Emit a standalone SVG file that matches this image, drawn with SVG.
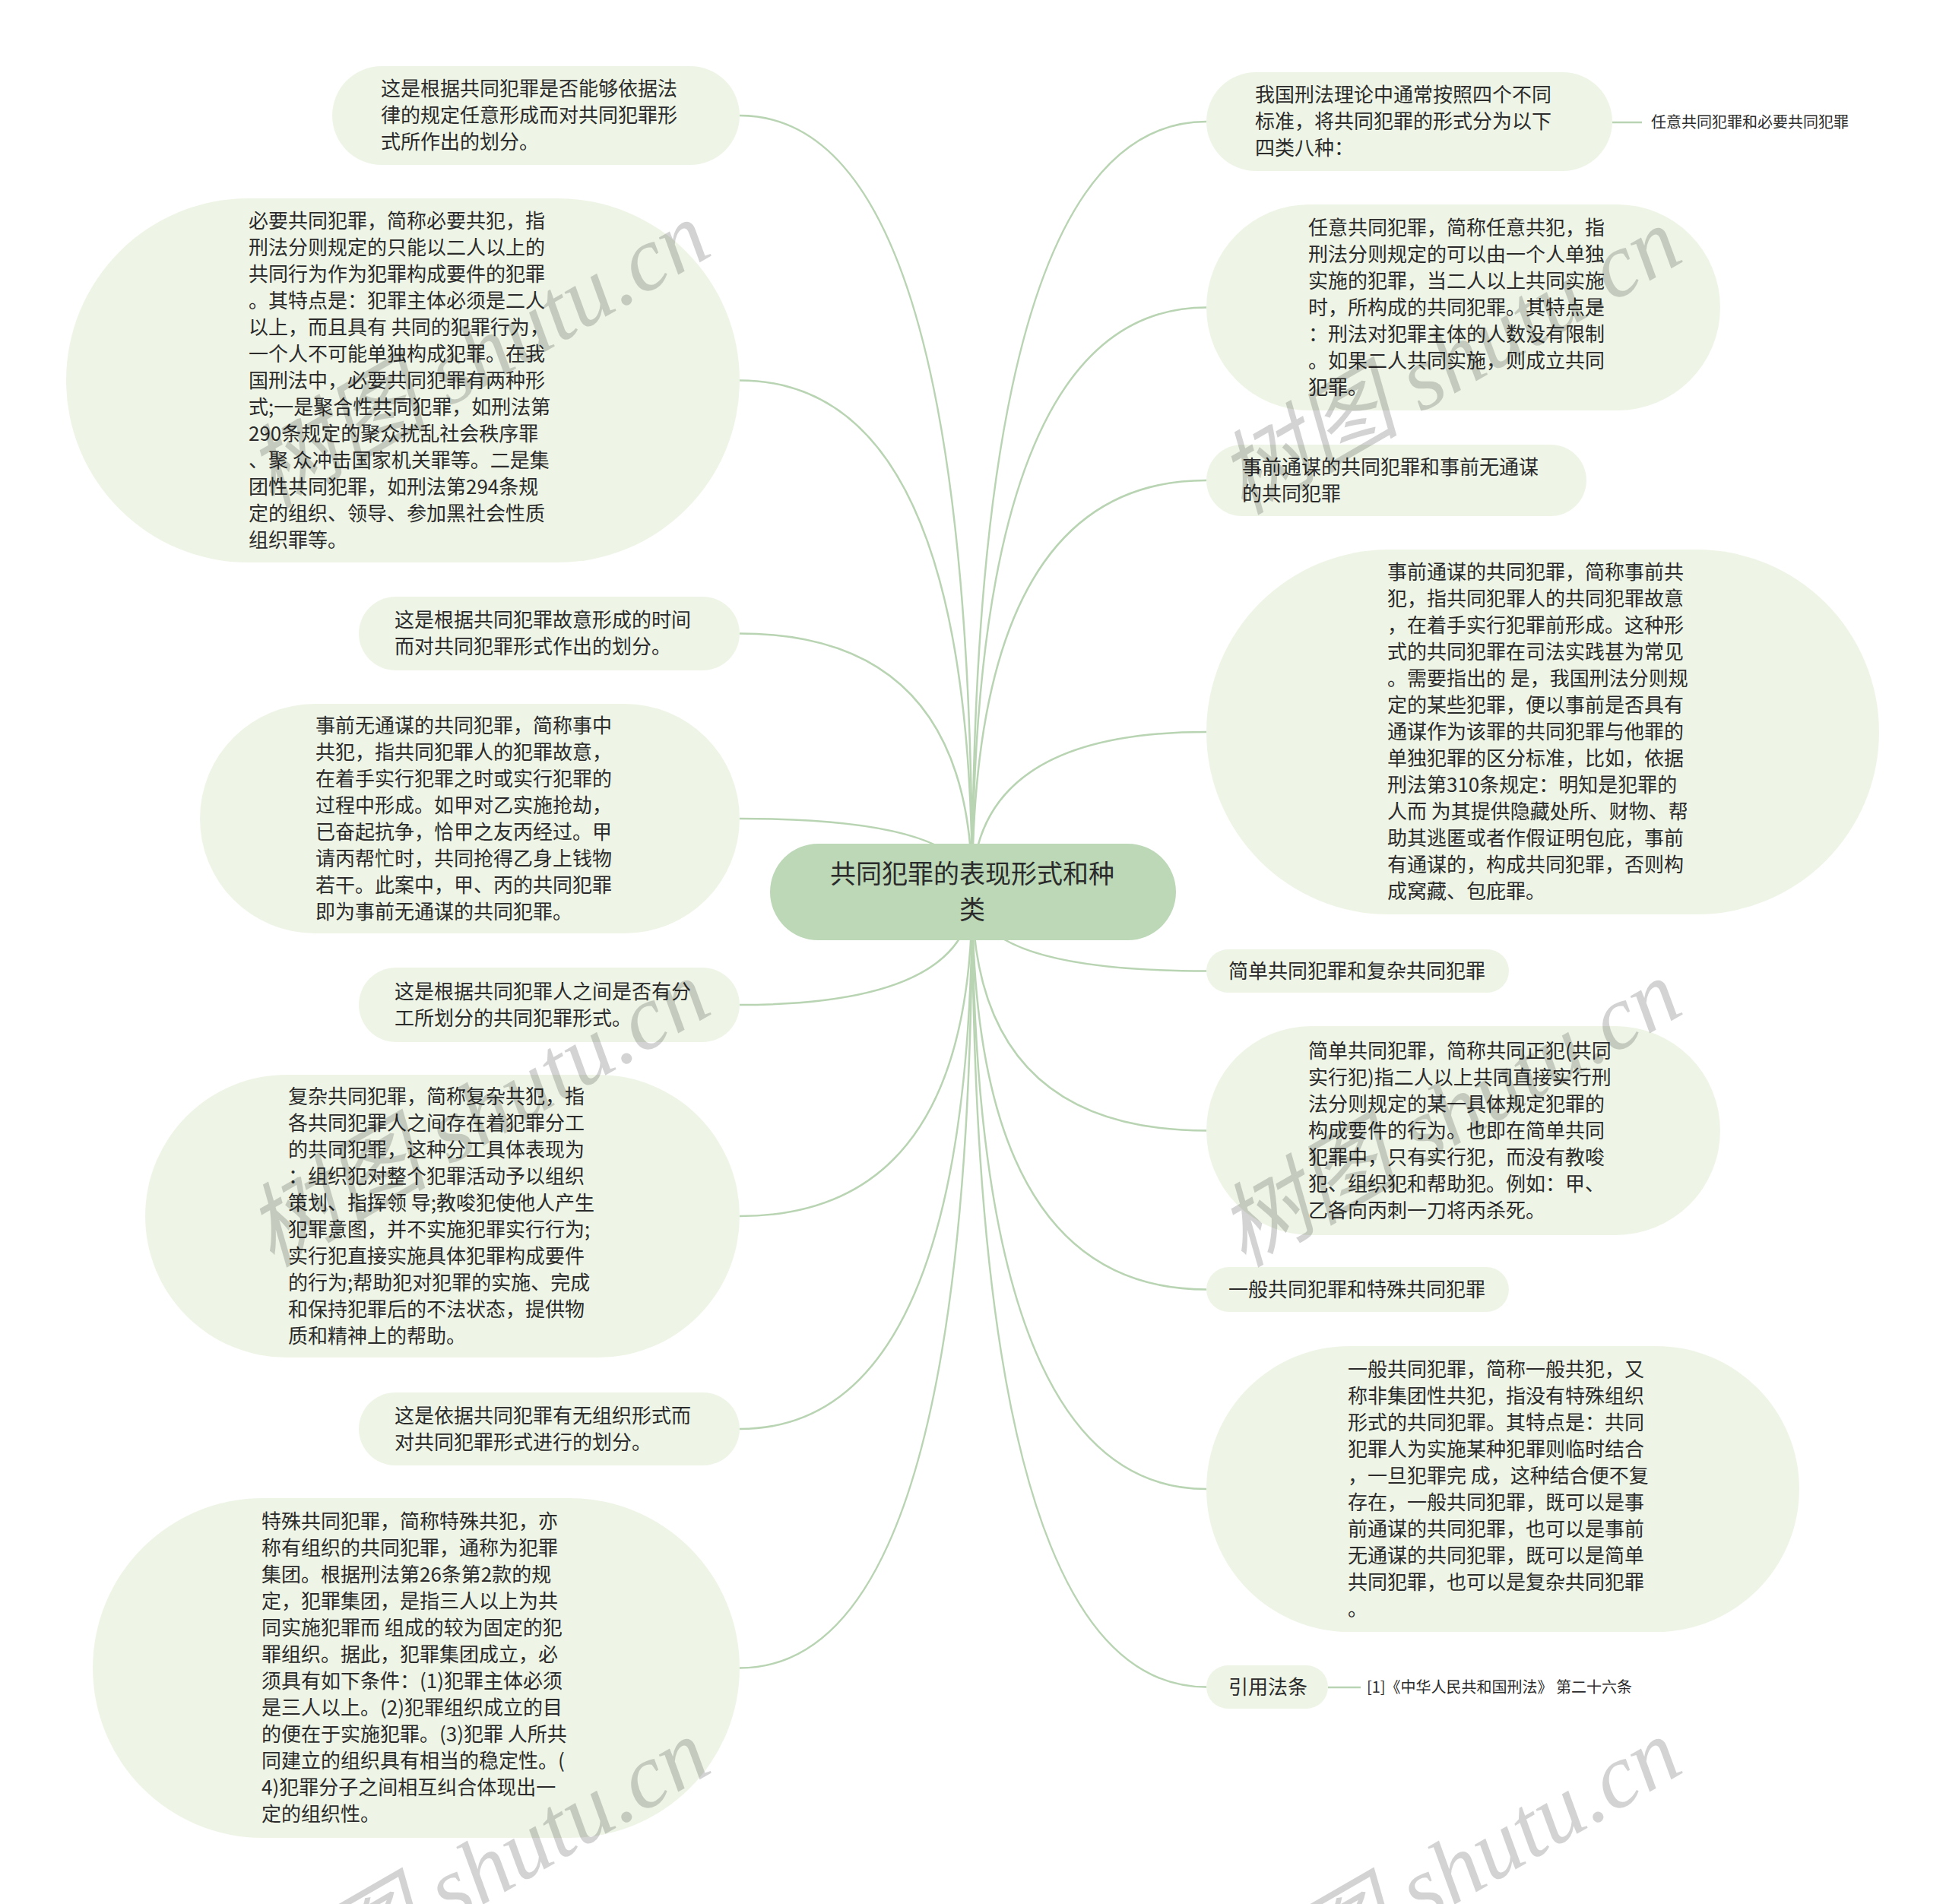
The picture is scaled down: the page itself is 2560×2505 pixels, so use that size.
<svg xmlns="http://www.w3.org/2000/svg" width="2560" height="2505" viewBox="0 0 2560 2505">
<style>
.bg{fill:#ffffff}
.node rect{fill:#eef5e6}
.root rect{fill:#bcd8b7}
.t{font-family:"Noto Sans CJK SC","Noto Sans",sans-serif;font-size:26px;fill:#2b2b2b}
.tr{font-family:"Noto Sans CJK SC","Noto Sans",sans-serif;font-size:34px;fill:#2b2b2b}
.ts{font-family:"Noto Sans CJK SC","Noto Sans",sans-serif;font-size:20px;fill:#2b2b2b}
.c path,.c line{fill:none;stroke:#b8d4b2;stroke-width:2.5}
.wm text{font-family:"Liberation Serif","Noto Sans CJK SC",serif;font-style:italic;font-size:120px;fill:#000;opacity:0.17}
</style>
<rect class="bg" x="0" y="0" width="2560" height="2505"/>
<g class="c" id="connectors">
<path d="M1279,1173 Q1279,152 973,152"/>
<path d="M1279,1173 Q1279,500.5 973,500.5"/>
<path d="M1279,1173 Q1279,833.5 973,833.5"/>
<path d="M1279,1173 Q1279,1077 973,1077"/>
<path d="M1279,1173 Q1279,1322 973,1322"/>
<path d="M1279,1173 Q1279,1600 973,1600"/>
<path d="M1279,1173 Q1279,1880 973,1880"/>
<path d="M1279,1173 Q1279,2194.5 973,2194.5"/>
<path d="M1279,1173 Q1279,160 1587,160"/>
<path d="M1279,1173 Q1279,404.5 1587,404.5"/>
<path d="M1279,1173 Q1279,632 1587,632"/>
<path d="M1279,1173 Q1279,963 1587,963"/>
<path d="M1279,1173 Q1279,1277.5 1587,1277.5"/>
<path d="M1279,1173 Q1279,1487.5 1587,1487.5"/>
<path d="M1279,1173 Q1279,1696.5 1587,1696.5"/>
<path d="M1279,1173 Q1279,1959 1587,1959"/>
<path d="M1279,1173 Q1279,2219.5 1587,2219.5"/>
<line x1="2121" y1="161" x2="2160" y2="161"/>
<line x1="1747" y1="2220" x2="1790" y2="2220"/>
</g>

<g class="root" id="root">
<rect x="1013" y="1110" width="534" height="127" rx="63.5"/>
<text class="tr" text-anchor="middle"><tspan x="1279" y="1162">共同犯罪的表现形式和种</tspan><tspan x="1279" y="1209">类</tspan></text>
</g>

<g class="node" id="n1">
<rect x="437" y="87" width="536" height="130" rx="65"/>
<text class="t"><tspan x="501" y="126">这是根据共同犯罪是否能够依据法</tspan><tspan x="501" y="161">律的规定任意形成而对共同犯罪形</tspan><tspan x="501" y="196">式所作出的划分。</tspan></text>
</g>

<g class="node" id="n2">
<rect x="87" y="261" width="886" height="479" rx="239.5"/>
<text class="t"><tspan x="327" y="300">必要共同犯罪，简称必要共犯，指</tspan><tspan x="327" y="335">刑法分则规定的只能以二人以上的</tspan><tspan x="327" y="370">共同行为作为犯罪构成要件的犯罪</tspan><tspan x="327" y="405">。其特点是：犯罪主体必须是二人</tspan><tspan x="327" y="440">以上，而且具有 共同的犯罪行为，</tspan><tspan x="327" y="475">一个人不可能单独构成犯罪。在我</tspan><tspan x="327" y="510">国刑法中，必要共同犯罪有两种形</tspan><tspan x="327" y="545">式;一是聚合性共同犯罪，如刑法第</tspan><tspan x="327" y="580">290条规定的聚众扰乱社会秩序罪</tspan><tspan x="327" y="615">、聚 众冲击国家机关罪等。二是集</tspan><tspan x="327" y="650">团性共同犯罪，如刑法第294条规</tspan><tspan x="327" y="685">定的组织、领导、参加黑社会性质</tspan><tspan x="327" y="720">组织罪等。</tspan></text>
</g>

<g class="node" id="n3">
<rect x="472" y="785" width="501" height="97" rx="48.5"/>
<text class="t"><tspan x="519" y="825">这是根据共同犯罪故意形成的时间</tspan><tspan x="519" y="860">而对共同犯罪形式作出的划分。</tspan></text>
</g>

<g class="node" id="n4">
<rect x="263" y="926" width="710" height="302" rx="151"/>
<text class="t"><tspan x="415" y="964">事前无通谋的共同犯罪，简称事中</tspan><tspan x="415" y="999">共犯，指共同犯罪人的犯罪故意，</tspan><tspan x="415" y="1034">在着手实行犯罪之时或实行犯罪的</tspan><tspan x="415" y="1069">过程中形成。如甲对乙实施抢劫，</tspan><tspan x="415" y="1104">已奋起抗争，恰甲之友丙经过。甲</tspan><tspan x="415" y="1139">请丙帮忙时，共同抢得乙身上钱物</tspan><tspan x="415" y="1174">若干。此案中，甲、丙的共同犯罪</tspan><tspan x="415" y="1209">即为事前无通谋的共同犯罪。</tspan></text>
</g>

<g class="node" id="n5">
<rect x="472" y="1273" width="501" height="98" rx="49"/>
<text class="t"><tspan x="519" y="1314">这是根据共同犯罪人之间是否有分</tspan><tspan x="519" y="1349">工所划分的共同犯罪形式。</tspan></text>
</g>

<g class="node" id="n6">
<rect x="191" y="1414" width="782" height="372" rx="186"/>
<text class="t"><tspan x="379" y="1452">复杂共同犯罪，简称复杂共犯，指</tspan><tspan x="379" y="1487">各共同犯罪人之间存在着犯罪分工</tspan><tspan x="379" y="1522">的共同犯罪，这种分工具体表现为</tspan><tspan x="379" y="1557">：组织犯对整个犯罪活动予以组织</tspan><tspan x="379" y="1592">策划、指挥领 导;教唆犯使他人产生</tspan><tspan x="379" y="1627">犯罪意图，并不实施犯罪实行行为;</tspan><tspan x="379" y="1662">实行犯直接实施具体犯罪构成要件</tspan><tspan x="379" y="1697">的行为;帮助犯对犯罪的实施、完成</tspan><tspan x="379" y="1732">和保持犯罪后的不法状态，提供物</tspan><tspan x="379" y="1767">质和精神上的帮助。</tspan></text>
</g>

<g class="node" id="n7">
<rect x="472" y="1832" width="501" height="96" rx="48"/>
<text class="t"><tspan x="519" y="1872">这是依据共同犯罪有无组织形式而</tspan><tspan x="519" y="1907">对共同犯罪形式进行的划分。</tspan></text>
</g>

<g class="node" id="n8">
<rect x="122" y="1971" width="851" height="447" rx="223.5"/>
<text class="t"><tspan x="344" y="2011">特殊共同犯罪，简称特殊共犯，亦</tspan><tspan x="344" y="2046">称有组织的共同犯罪，通称为犯罪</tspan><tspan x="344" y="2081">集团。根据刑法第26条第2款的规</tspan><tspan x="344" y="2116">定，犯罪集团，是指三人以上为共</tspan><tspan x="344" y="2151">同实施犯罪而 组成的较为固定的犯</tspan><tspan x="344" y="2186">罪组织。据此，犯罪集团成立，必</tspan><tspan x="344" y="2221">须具有如下条件：(1)犯罪主体必须</tspan><tspan x="344" y="2256">是三人以上。(2)犯罪组织成立的目</tspan><tspan x="344" y="2291">的便在于实施犯罪。(3)犯罪 人所共</tspan><tspan x="344" y="2326">同建立的组织具有相当的稳定性。(</tspan><tspan x="344" y="2361">4)犯罪分子之间相互纠合体现出一</tspan><tspan x="344" y="2396">定的组织性。</tspan></text>
</g>

<g class="node" id="r1">
<rect x="1587" y="95" width="534" height="130" rx="65"/>
<text class="t"><tspan x="1651" y="134">我国刑法理论中通常按照四个不同</tspan><tspan x="1651" y="169">标准，将共同犯罪的形式分为以下</tspan><tspan x="1651" y="204">四类八种：</tspan></text>
</g>

<g id="leaf1">
<text class="ts" x="2172" y="168">任意共同犯罪和必要共同犯罪</text>
</g>

<g class="node" id="r2">
<rect x="1587" y="269" width="676" height="271" rx="135.5"/>
<text class="t"><tspan x="1721" y="309">任意共同犯罪，简称任意共犯，指</tspan><tspan x="1721" y="344">刑法分则规定的可以由一个人单独</tspan><tspan x="1721" y="379">实施的犯罪，当二人以上共同实施</tspan><tspan x="1721" y="414">时，所构成的共同犯罪。其特点是</tspan><tspan x="1721" y="449">：刑法对犯罪主体的人数没有限制</tspan><tspan x="1721" y="484">。如果二人共同实施，则成立共同</tspan><tspan x="1721" y="519">犯罪。</tspan></text>
</g>

<g class="node" id="r3">
<rect x="1587" y="585" width="500" height="94" rx="47"/>
<text class="t"><tspan x="1634" y="624">事前通谋的共同犯罪和事前无通谋</tspan><tspan x="1634" y="659">的共同犯罪</tspan></text>
</g>

<g class="node" id="r4">
<rect x="1587" y="723" width="885" height="480" rx="240"/>
<text class="t"><tspan x="1825" y="762">事前通谋的共同犯罪，简称事前共</tspan><tspan x="1825" y="797">犯，指共同犯罪人的共同犯罪故意</tspan><tspan x="1825" y="832">，在着手实行犯罪前形成。这种形</tspan><tspan x="1825" y="867">式的共同犯罪在司法实践甚为常见</tspan><tspan x="1825" y="902">。需要指出的 是，我国刑法分则规</tspan><tspan x="1825" y="937">定的某些犯罪，便以事前是否具有</tspan><tspan x="1825" y="972">通谋作为该罪的共同犯罪与他罪的</tspan><tspan x="1825" y="1007">单独犯罪的区分标准，比如，依据</tspan><tspan x="1825" y="1042">刑法第310条规定：明知是犯罪的</tspan><tspan x="1825" y="1077">人而 为其提供隐藏处所、财物、帮</tspan><tspan x="1825" y="1112">助其逃匿或者作假证明包庇，事前</tspan><tspan x="1825" y="1147">有通谋的，构成共同犯罪，否则构</tspan><tspan x="1825" y="1182">成窝藏、包庇罪。</tspan></text>
</g>

<g class="node" id="r5">
<rect x="1587" y="1249" width="398" height="57" rx="28.5"/>
<text class="t" x="1616" y="1287">简单共同犯罪和复杂共同犯罪</text>
</g>

<g class="node" id="r6">
<rect x="1587" y="1350" width="676" height="275" rx="137.5"/>
<text class="t"><tspan x="1721" y="1392">简单共同犯罪，简称共同正犯(共同</tspan><tspan x="1721" y="1427">实行犯)指二人以上共同直接实行刑</tspan><tspan x="1721" y="1462">法分则规定的某一具体规定犯罪的</tspan><tspan x="1721" y="1497">构成要件的行为。也即在简单共同</tspan><tspan x="1721" y="1532">犯罪中，只有实行犯，而没有教唆</tspan><tspan x="1721" y="1567">犯、组织犯和帮助犯。例如：甲、</tspan><tspan x="1721" y="1602">乙各向丙刺一刀将丙杀死。</tspan></text>
</g>

<g class="node" id="r7">
<rect x="1587" y="1667" width="398" height="59" rx="29.5"/>
<text class="t" x="1616" y="1706">一般共同犯罪和特殊共同犯罪</text>
</g>

<g class="node" id="r8">
<rect x="1587" y="1771" width="780" height="376" rx="188"/>
<text class="t"><tspan x="1773" y="1811">一般共同犯罪，简称一般共犯，又</tspan><tspan x="1773" y="1846">称非集团性共犯，指没有特殊组织</tspan><tspan x="1773" y="1881">形式的共同犯罪。其特点是：共同</tspan><tspan x="1773" y="1916">犯罪人为实施某种犯罪则临时结合</tspan><tspan x="1773" y="1951">，一旦犯罪完 成，这种结合便不复</tspan><tspan x="1773" y="1986">存在，一般共同犯罪，既可以是事</tspan><tspan x="1773" y="2021">前通谋的共同犯罪，也可以是事前</tspan><tspan x="1773" y="2056">无通谋的共同犯罪，既可以是简单</tspan><tspan x="1773" y="2091">共同犯罪，也可以是复杂共同犯罪</tspan><tspan x="1773" y="2126">。</tspan></text>
</g>

<g class="node" id="r9">
<rect x="1587" y="2191" width="160" height="57" rx="28.5"/>
<text class="t" x="1616" y="2229">引用法条</text>
</g>

<g id="leaf2">
<text class="ts" x="1798" y="2227">[1]《中华人民共和国刑法》 第二十六条</text>
</g>

<g class="wm" id="watermarks">
<text text-anchor="middle" transform="translate(649,502) rotate(-30)">树图 shutu.cn</text>
<text text-anchor="middle" transform="translate(1927,510) rotate(-30)">树图 shutu.cn</text>
<text text-anchor="middle" transform="translate(649,1500) rotate(-30)">树图 shutu.cn</text>
<text text-anchor="middle" transform="translate(1927,1500) rotate(-30)">树图 shutu.cn</text>
<text text-anchor="middle" transform="translate(649,2498) rotate(-30)">树图 shutu.cn</text>
<text text-anchor="middle" transform="translate(1927,2498) rotate(-30)">树图 shutu.cn</text>
</g>
</svg>
